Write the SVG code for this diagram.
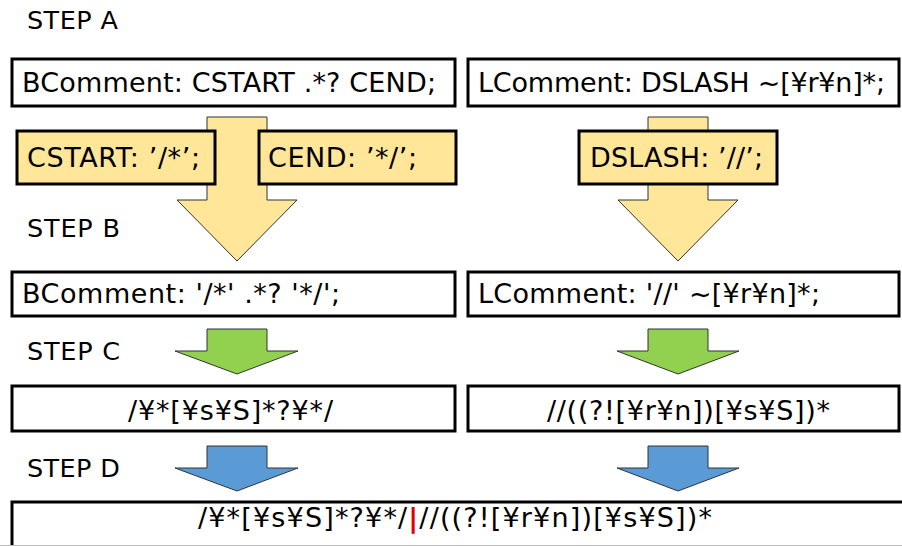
<svg xmlns="http://www.w3.org/2000/svg" width="902" height="546" viewBox="0 0 902 546">
<style>
.t{font-family:"DejaVu Sans","Noto Sans CJK JP",sans-serif;font-size:27px;fill:#000}
.s{font-family:"DejaVu Sans","Noto Sans CJK JP",sans-serif;font-size:25.5px;fill:#000}
.box{fill:#fff;stroke:#000;stroke-width:3}
.ybox{fill:#FFE699;stroke:#000;stroke-width:3}
.ya{fill:#FFE699;stroke:#333;stroke-width:1}
.ga{fill:#92D050;stroke:#333;stroke-width:1}
.ba{fill:#5B9BD5;stroke:#333;stroke-width:1}
</style>
<rect width="902" height="546" fill="#fff"/>
<g id="labels">
<text class="s" x="27" y="29" textLength="91">STEP A</text>
<text class="s" x="27" y="237" textLength="93">STEP B</text>
<text class="s" x="27" y="360" textLength="93">STEP C</text>
<text class="s" x="27" y="477" textLength="93">STEP D</text>
</g>
<g id="connectors">
<polygon class="ya" points="207,117 267,117 267,200 297,200 237,261 177,200 207,200"/>
<polygon class="ya" points="648,117 708,117 708,200 738,200 678,261 618,200 648,200"/>
<polygon class="ga" points="207,329 267,329 267,351 298,351 237,374 175,351 207,351"/>
<polygon class="ga" points="648,329 708,329 708,351 739,351 678,374 617,351 648,351"/>
<polygon class="ba" points="207,446 267,446 267,468 298,468 237,491 175,468 207,468"/>
<polygon class="ba" points="648,446 708,446 708,468 739,468 678,491 617,468 648,468"/>
</g>
<g id="a-left">
<rect class="box" x="12" y="59" width="443" height="47"/>
<text class="t" x="22" y="92" textLength="414">BComment: CSTART .*? CEND;</text>
</g>
<g id="a-right">
<rect class="box" x="468" y="59" width="431" height="47"/>
<text class="t" x="478" y="92" textLength="407">LComment: DSLASH ~[¥r¥n]*;</text>
</g>
<g id="cstart">
<rect class="ybox" x="17" y="131" width="198" height="53"/>
<text class="t" x="27" y="167" textLength="173">CSTART: ’/*’;</text>
</g>
<g id="cend">
<rect class="ybox" x="259" y="131" width="197" height="53"/>
<text class="t" x="268" y="167" textLength="149">CEND: ’*/’;</text>
</g>
<g id="dslash">
<rect class="ybox" x="579" y="131" width="198" height="53"/>
<text class="t" x="590" y="167" textLength="173">DSLASH: ’//’;</text>
</g>
<g id="b-left">
<rect class="box" x="12" y="272" width="443" height="44"/>
<text class="t" x="22" y="303" textLength="318">BComment: '/*' .*? '*/';</text>
</g>
<g id="b-right">
<rect class="box" x="468" y="272" width="431" height="44"/>
<text class="t" x="478" y="303" textLength="342">LComment: '//' ~[¥r¥n]*;</text>
</g>
<g id="c-left">
<rect class="box" x="12" y="386" width="443" height="45"/>
<text class="t" x="128" y="420" textLength="205">/¥*[¥s¥S]*?¥*/</text>
</g>
<g id="c-right">
<rect class="box" x="468" y="386" width="431" height="45"/>
<text class="t" x="547" y="420" textLength="283">//((?![¥r¥n])[¥s¥S])*</text>
</g>
<g id="d">
<rect class="box" x="12" y="502" width="900" height="60"/>
<line x1="0" y1="545.5" x2="902" y2="545.5" stroke="#bbb" stroke-width="1"/>
<text class="t" x="198" y="527" textLength="514">/¥*[¥s¥S]*?¥*/<tspan fill="#e00000" font-weight="bold">|</tspan>//((?![¥r¥n])[¥s¥S])*</text>
</g>
</svg>
